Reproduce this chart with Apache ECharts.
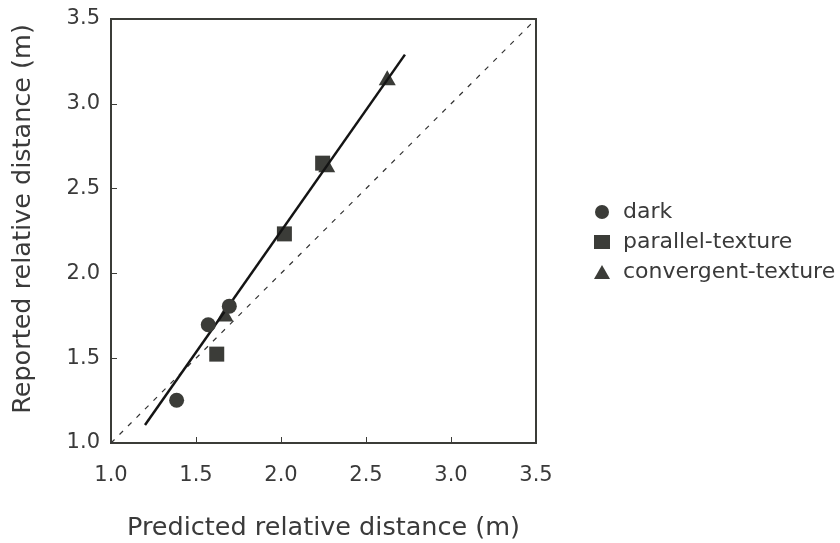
<!DOCTYPE html>
<html>
<head>
<meta charset="utf-8">
<script src="https://cdn.jsdelivr.net/npm/echarts@6/dist/echarts.min.js"></script>
<style>
  html, body { margin: 0; padding: 0; background: #fff; }
  #chart { width: 840px; height: 543px; }
</style>
</head>
<body>
<div id="chart"></div>
<script>
// Predicted vs reported relative distance for three viewing conditions
const darkPts = [[1.386, 1.252], [1.572, 1.697], [1.696, 1.807]];
const parallelPts = [[1.622, 1.524], [2.020, 2.233], [2.245, 2.650]];
const convergentPts = [[1.670, 1.760], [2.269, 2.640], [2.625, 3.154]];
// Fitted regression line end points and the identity (y = x) reference line
const fitLine = [[1.200, 1.106], [2.729, 3.290]];
const identityLine = [[1.0, 1.0], [3.5, 3.5]];
const axisTicks = { min: 1.0, max: 3.5, interval: 0.5 };

const ink = '#3b3c38';
const textColor = '#3a3a3a';
const font = '"DejaVu Sans", sans-serif';

const chart = echarts.init(document.getElementById('chart'), null, { renderer: 'canvas' });

function valueAxis(name, isX) {
  return {
    type: 'value',
    min: axisTicks.min,
    max: axisTicks.max,
    interval: axisTicks.interval,
    name: name,
    nameLocation: 'middle',
    nameGap: isX ? 72 : 75,
    nameTextStyle: {
      fontSize: 25.5, color: textColor, fontFamily: font,
      padding: isX ? 0 : [0, 0, 0, 24]
    },
    axisLine: { show: true, onZero: false, lineStyle: { color: ink, width: 2 } },
    axisTick: { show: true, inside: true, length: 6, lineStyle: { color: ink, width: 1 } },
    axisLabel: {
      fontSize: 21, color: textColor, fontFamily: font,
      margin: isX ? 22 : 11,
      formatter: v => v.toFixed(1)
    },
    splitLine: { show: false }
  };
}

const markerStyle = { color: ink, opacity: 1 };

chart.setOption({
  animation: false,
  backgroundColor: '#ffffff',
  grid: {
    left: 111, top: 19, width: 425, height: 424,
    outerBoundsMode: 'none', containLabel: false,
    show: true, borderColor: ink, borderWidth: 2, backgroundColor: 'transparent'
  },
  xAxis: valueAxis('Predicted relative distance (m)', true),
  yAxis: valueAxis('Reported relative distance (m)', false),
  legend: {
    data: [
      { name: 'dark', icon: 'circle' },
      { name: 'parallel-texture', icon: 'rect' },
      { name: 'convergent-texture', icon: 'triangle' }
    ],
    orient: 'vertical',
    left: 589,
    top: 196,
    itemWidth: 16,
    itemHeight: 14,
    itemGap: 8,
    itemStyle: { opacity: 1 },
    textStyle: { fontSize: 22, color: textColor, fontFamily: font, padding: [0, 0, 0, 8] }
  },
  series: [
    {
      name: 'identity', type: 'line', data: identityLine, symbol: 'none',
      lineStyle: { color: '#333', width: 1.2, type: [5, 7] }, z: 1, silent: true
    },
    {
      name: 'fit', type: 'line', data: fitLine, symbol: 'none',
      lineStyle: { color: '#141414', width: 2.5 }, z: 3, silent: true
    },
    {
      name: 'dark', type: 'scatter', data: darkPts, symbol: 'circle', symbolSize: 15,
      itemStyle: markerStyle, z: 4
    },
    {
      name: 'convergent-texture', type: 'scatter', data: convergentPts, symbol: 'triangle',
      symbolSize: [17, 15], itemStyle: markerStyle, z: 2
    },
    {
      name: 'parallel-texture', type: 'scatter', data: parallelPts, symbol: 'rect', symbolSize: 15,
      itemStyle: markerStyle, z: 2
    }
  ]
});
</script>
</body>
</html>
